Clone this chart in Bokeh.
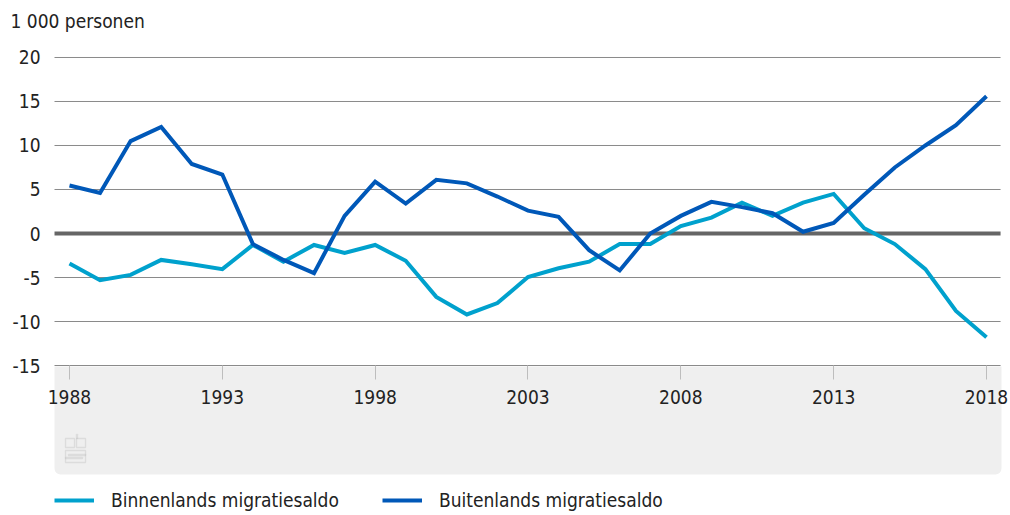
from bokeh.plotting import figure
from bokeh.models import Range1d, FixedTicker, BoxAnnotation, Legend, LegendItem, Label
from bokeh.embed import file_html
from bokeh.resources import INLINE

years = list(range(1988, 2019))
binnenlands = [-3.4, -5.3, -4.7, -3.0, -3.5, -4.05, -1.3, -3.2, -1.3, -2.2, -1.3,
               -3.1, -7.2, -9.2, -7.9, -4.95, -3.95, -3.2, -1.2, -1.2, 0.85,
               1.8, 3.5, 2.0, 3.5, 4.5, 0.6, -1.2, -4.05, -8.8, -11.8]
buitenlands = [5.45, 4.6, 10.5, 12.1, 7.9, 6.7, -1.2, -3.0, -4.5, 2.0, 5.9,
               3.4, 6.1, 5.7, 4.2, 2.6, 1.9, -1.9, -4.2, 0.0, 2.0,
               3.6, 3.0, 2.3, 0.2, 1.2, 4.4, 7.5, 10.0, 12.3, 15.6]
y_ticks = [-15, -10, -5, 0, 5, 10, 15, 20]
x_ticks = [1988, 1993, 1998, 2003, 2008, 2013, 2018]
series_names = ["Binnenlands migratiesaldo", "Buitenlands migratiesaldo"]
unit_label = "1 000 personen"
colors = ["#00a1cd", "#0058b8"]

FONT = "DejaVu Sans Condensed"
FS = "19px"
TXT = "#222222"
W, H = 1010, 515

# plot extents (data units)
Y_MIN, Y_MAX = -15, 20
X_LO, X_HI = 1987.51, 2018.46          # where grid lines start / end
PANEL_BOTTOM = -27.386                  # bottom of the grey panel under the axis
view_x = (1985.743, 2018.785)           # frame covers the whole canvas
view_y = (-32.045, 26.477)

p = figure(width=W, height=H, output_backend="svg", toolbar_location=None,
           x_range=Range1d(*view_x), y_range=Range1d(*view_y),
           min_border_left=0, min_border_right=0, min_border_top=0,
           min_border_bottom=0, outline_line_color=None,
           background_fill_color="white", border_fill_color="white")

# unit label at the top left
p.add_layout(Label(x=10, y=20, x_units="canvas", y_units="canvas", text=unit_label,
                   text_font=FONT, text_font_size=FS, text_color=TXT,
                   text_baseline="middle", text_align="left"))

# grey panel under the x axis
panel = BoxAnnotation(top=Y_MIN - 0.11, bottom=PANEL_BOTTOM, left=X_LO, right=X_HI + 0.03,
                      fill_color="#efefef", fill_alpha=1.0,
                      line_color=None, level="underlay",
                      border_radius=(0, 0, 6, 6))
p.add_layout(panel)

# small logo approximation (canvas pixels)
logo_boxes = [(65, 74, 438, 447), (76, 85, 438, 447), (76, 77, 434, 438),
              (65, 85, 450, 462), (68, 85, 454, 455), (65, 82, 457, 458)]
for (l, r, t, b) in logo_boxes:
    p.add_layout(BoxAnnotation(left=l, right=r, top=t, bottom=b,
                               left_units="canvas", right_units="canvas",
                               top_units="canvas", bottom_units="canvas",
                               fill_color=None, fill_alpha=0, line_color="#b0b0b0",
                               line_width=1.3, level="underlay"))

# horizontal grid lines and the heavy zero line
grid_y = [t for t in y_ticks if t != 0]
p.segment(x0=[X_LO] * len(grid_y), x1=[X_HI] * len(grid_y), y0=grid_y, y1=grid_y,
          line_color="#8a8a8a", line_width=1, level="underlay")
p.segment(x0=[X_LO], x1=[X_HI], y0=[0], y1=[0], line_color="#666666", line_width=4)

r1 = p.line(years, binnenlands, line_color=colors[0], line_width=4, line_join="miter")
r2 = p.line(years, buitenlands, line_color=colors[1], line_width=4, line_join="miter")

p.xgrid.grid_line_color = None
p.ygrid.grid_line_color = None

p.yaxis.fixed_location = X_LO
p.yaxis.ticker = FixedTicker(ticks=y_ticks)
p.yaxis.major_label_overrides = {t: str(t) for t in y_ticks}
p.yaxis.axis_line_color = None
p.yaxis.major_tick_line_color = None
p.yaxis.major_tick_out = 0
p.yaxis.major_tick_in = 0
p.yaxis.minor_tick_line_color = None
p.yaxis.major_label_standoff = 14
p.yaxis.major_label_text_font = FONT
p.yaxis.major_label_text_font_size = FS
p.yaxis.major_label_text_color = TXT

p.xaxis.fixed_location = Y_MIN
p.xaxis.ticker = FixedTicker(ticks=x_ticks)
p.xaxis.axis_line_color = None
p.xaxis.major_tick_line_color = "#bdbdbd"
p.xaxis.major_tick_out = 14
p.xaxis.major_tick_in = 0
p.xaxis.minor_tick_line_color = None
p.xaxis.major_label_standoff = 10
p.xaxis.major_label_text_font = FONT
p.xaxis.major_label_text_font_size = FS
p.xaxis.major_label_text_color = TXT

legend = Legend(items=[LegendItem(label=series_names[0], renderers=[r1]),
                       LegendItem(label=series_names[1], renderers=[r2])],
                orientation="horizontal", location=(54, 4),
                padding=0, margin=0, spacing=43, label_standoff=17,
                glyph_width=40, glyph_height=20,
                label_text_font=FONT, label_text_font_size=FS,
                label_text_color=TXT,
                background_fill_alpha=0, border_line_color=None)
p.add_layout(legend, "center")

open("out.html", "w").write(file_html(p, INLINE))
